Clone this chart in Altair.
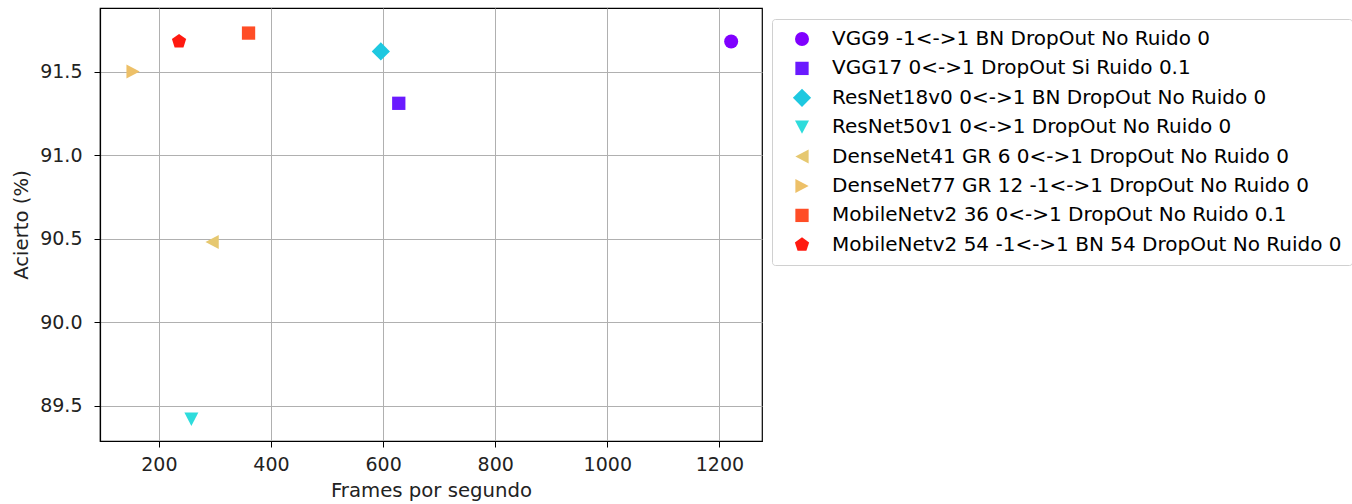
import altair as alt
import pandas as pd

# Model names, throughput (frames per second) and accuracy (%)
models = [
    "VGG9 -1<->1 BN DropOut No Ruido 0",
    "VGG17 0<->1 DropOut Si Ruido 0.1",
    "ResNet18v0 0<->1 BN DropOut No Ruido 0",
    "ResNet50v1 0<->1 DropOut No Ruido 0",
    "DenseNet41 GR 6 0<->1 DropOut No Ruido 0",
    "DenseNet77 GR 12 -1<->1 DropOut No Ruido 0",
    "MobileNetv2 36 0<->1 DropOut No Ruido 0.1",
    "MobileNetv2 54 -1<->1 BN 54 DropOut No Ruido 0",
]
fps = [1221, 628, 596, 258, 295, 154, 360, 236]
accuracy = [91.68, 91.31, 91.62, 89.42, 90.48, 91.50, 91.73, 91.68]

colors = ["#8000ff", "#6a1aff", "#1ec8e0", "#2edcdc",
          "#e6c870", "#edc068", "#ff4d26", "#ff1a10"]

# Marker outlines in Vega's unit coordinates
shapes = [
    "circle",
    "M-0.95,-0.95H0.95V0.95H-0.95Z",
    "M0,-1.3L1.3,0L0,1.3L-1.3,0Z",
    "M-1,-0.95L1,-0.95L0,0.95Z",
    "M-0.95,0L0.95,-1L0.95,1Z",
    "M0.95,0L-0.95,-1L-0.95,1Z",
    "M-0.95,-0.95H0.95V0.95H-0.95Z",
    "M0,-1.07L1.018,-0.331L0.629,0.866L-0.629,0.866L-1.018,-0.331Z",
]

x_ticks = [200, 400, 600, 800, 1000, 1200]
y_ticks = [89.5, 90.0, 90.5, 91.0, 91.5]

df = pd.DataFrame({"Modelo": models, "fps": fps, "acierto": accuracy})

FONT = "DejaVu Sans"

legend = alt.Legend(
    title=None,
    orient="none",
    legendX=672,
    legendY=11,
    labelFont=FONT,
    labelFontSize=20,
    labelColor="#000000",
    labelLimit=1000,
    symbolSize=196,
    symbolStrokeWidth=0,
    symbolOpacity=1,
    symbolOffset=10,
    labelOffset=20,
    rowPadding=9.4,
    padding=10,
    strokeColor="#d0d0d0",
    fillColor="#ffffff",
    cornerRadius=3,
)

chart = (
    alt.Chart(df)
    .mark_point(filled=True, opacity=1, size=196)
    .encode(
        x=alt.X(
            "fps:Q",
            title="Frames por segundo",
            scale=alt.Scale(domain=[95, 1276], nice=False, zero=False),
            axis=alt.Axis(values=x_ticks, format="d", labelPadding=8,
                          titlePadding=6),
        ),
        y=alt.Y(
            "acierto:Q",
            title="Acierto (%)",
            scale=alt.Scale(domain=[89.29, 91.88], nice=False, zero=False),
            axis=alt.Axis(values=y_ticks, format=".1f", labelPadding=12,
                          titlePadding=8),
        ),
        color=alt.Color("Modelo:N", sort=models,
                        scale=alt.Scale(domain=models, range=colors),
                        legend=legend),
        shape=alt.Shape("Modelo:N", sort=models,
                        scale=alt.Scale(domain=models, range=shapes),
                        legend=legend),
    )
    .properties(
        width=662,
        height=433,
        autosize="none",
        padding={"left": 100, "top": 8, "right": 590, "bottom": 63},
    )
    .configure_view(stroke="#000000", strokeWidth=1.2)
    .configure_axis(
        labelFont=FONT,
        labelFontSize=19,
        labelColor="#222222",
        titleFont=FONT,
        titleFontSize=19.7,
        titleFontWeight="normal",
        titleColor="#222222",
        domainColor="#000000",
        domainWidth=1.2,
        tickColor="#000000",
        tickSize=6,
        gridColor="#b0b0b0",
        gridWidth=1,
    )
)

chart.save("out.html", embed_options={"renderer": "svg", "actions": False})
